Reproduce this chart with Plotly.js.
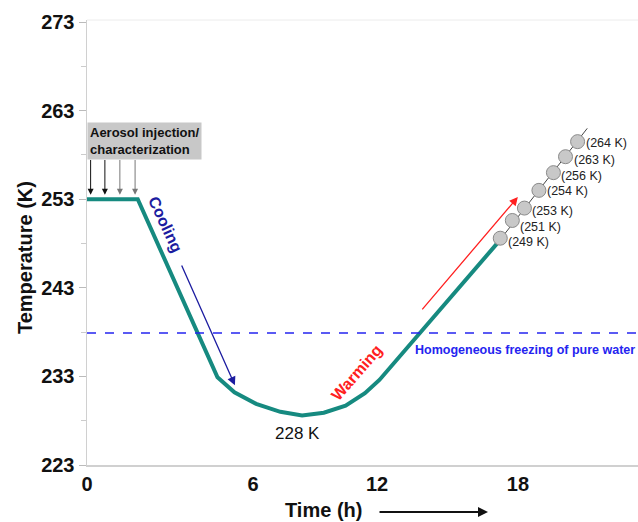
<!DOCTYPE html>
<html>
<head>
<meta charset="utf-8">
<script src="https://cdn.plot.ly/plotly-3.0.1.min.js"></script>
<style>html,body{margin:0;padding:0;background:#fff;}#chart{width:638px;height:522px;}</style>
</head>
<body>
<div id="chart"></div>
<script>
// ---- data ----
const TIME_H = [0, 2.1, 5.4, 6.1, 7.0, 8.0, 8.9, 9.8, 10.7, 11.5, 12.1, 17.0];
const TEMP_K = [253, 253, 232.9, 231.2, 229.9, 229.0, 228.6, 228.9, 229.7, 231.1, 232.6, 248.1];

const SAMPLE_TIME_H = [17.1, 17.6, 18.1, 18.7, 19.3, 19.8, 20.3];
const SAMPLE_TEMP_K = [248.6, 250.6, 252.0, 254.0, 256.0, 257.8, 259.5];
const SAMPLE_LABELS = ['(249 K)', '(251 K)', '(253 K)', '(254 K)', '(256 K)', '(263 K)', '(264 K)'];

const GUIDE_TIME_H = [17.0, 20.7];
const GUIDE_TEMP_K = [248.1, 261.0];

const INJECT_TIME_H = [0.15, 0.74, 1.36, 1.99];
const INJECT_TAIL_K = 257.6;
const INJECT_HEAD_K = 253.5;

const COOL_ARROW_H = [3.89, 6.12];
const COOL_ARROW_K = [245.7, 232.0];
const WARM_ARROW_H = [13.82, 17.83];
const WARM_ARROW_K = [240.4, 253.25];

const FREEZING_K = 237.9;
const MIN_LABEL = '228 K';

const Y_TICKS = [223, 233, 243, 253, 263, 273];
const Y_MINOR = [228, 238, 248, 258, 268];
const X_TICK_POS = [0, 6.87, 12, 17.83];
const X_TICK_TEXT = ['0', '6', '12', '18'];

// ---- styling ----
const FONT = 'Arial, "Liberation Sans", sans-serif';
const TEAL = '#168a80';
const NAVY = '#1c1ca0';
const BLUE = '#2424f0';
const RED = '#ff2020';
const LABEL_YSHIFT = [-4, -7, -3, -1, -3, -3, -1];

const traces = [
  {x: GUIDE_TIME_H, y: GUIDE_TEMP_K, mode: 'lines', line: {color: '#444', width: 1}, hoverinfo: 'skip'},
  {x: TIME_H, y: TEMP_K, mode: 'lines', line: {color: TEAL, width: 4}},
  {x: SAMPLE_TIME_H, y: SAMPLE_TEMP_K, mode: 'markers',
   marker: {size: 14, color: '#c8c8c8', line: {color: '#8a8a8a', width: 1}}}
];

const annotations = [];
SAMPLE_LABELS.forEach(function (lab, i) {
  annotations.push({x: SAMPLE_TIME_H[i], y: SAMPLE_TEMP_K[i], xref: 'x', yref: 'y', xanchor: 'left', yanchor: 'middle',
    xshift: 6, yshift: LABEL_YSHIFT[i], text: lab, showarrow: false, font: {family: FONT, size: 12.5, color: '#222'}});
});
INJECT_TIME_H.forEach(function (t, i) {
  annotations.push({x: t, y: INJECT_HEAD_K, ax: t, ay: INJECT_TAIL_K, xref: 'x', yref: 'y', axref: 'x', ayref: 'y',
    text: '', showarrow: true, arrowhead: 2, arrowsize: 1.2, arrowwidth: 1, arrowcolor: i < 2 ? '#111' : '#777'});
});
annotations.push({x: COOL_ARROW_H[1], y: COOL_ARROW_K[1], ax: COOL_ARROW_H[0], ay: COOL_ARROW_K[0],
  xref: 'x', yref: 'y', axref: 'x', ayref: 'y', text: '', showarrow: true, arrowhead: 2, arrowsize: 1.3, arrowwidth: 1.3, arrowcolor: NAVY});
annotations.push({x: WARM_ARROW_H[1], y: WARM_ARROW_K[1], ax: WARM_ARROW_H[0], ay: WARM_ARROW_K[0],
  xref: 'x', yref: 'y', axref: 'x', ayref: 'y', text: '', showarrow: true, arrowhead: 2, arrowsize: 1.3, arrowwidth: 1.3, arrowcolor: RED});
annotations.push({x: 0, y: 0.7708, xref: 'paper', yref: 'paper', xanchor: 'left', yanchor: 'top', align: 'left',
  text: '<b>Aerosol injection/<br>characterization</b>', showarrow: false, bgcolor: '#c8c8c8', borderpad: 2,
  font: {family: FONT, size: 13, color: '#111'}});
annotations.push({x: 3.23, y: 250.1, xref: 'x', yref: 'y', xanchor: 'center', yanchor: 'middle', text: '<b>Cooling</b>', showarrow: false, textangle: 65,
  font: {family: FONT, size: 16, color: NAVY}});
annotations.push({x: 11.17, y: 233.4, xref: 'x', yref: 'y', xanchor: 'center', yanchor: 'middle', text: '<b>Warming</b>', showarrow: false, textangle: -49,
  font: {family: FONT, size: 16, color: RED}});
annotations.push({x: 8.69, y: 226.5, xref: 'x', yref: 'y', xanchor: 'center', yanchor: 'middle', text: MIN_LABEL, showarrow: false,
  font: {family: FONT, size: 17, color: '#111'}});
annotations.push({x: 18.12, y: 236.0, xref: 'x', yref: 'y', xanchor: 'center', yanchor: 'middle', text: '<b>Homogeneous freezing of pure water</b>', showarrow: false,
  font: {family: FONT, size: 12.5, color: BLUE}});
annotations.push({x: -0.1125, y: 0.465, xref: 'paper', yref: 'paper', xanchor: 'center', yanchor: 'middle', text: '<b>Temperature (K)</b>', showarrow: false,
  textangle: -90, font: {family: FONT, size: 20, color: '#111'}});
annotations.push({x: 0.4299, y: -0.1011, xref: 'paper', yref: 'paper', xanchor: 'center', yanchor: 'middle', text: '<b>Time (h)</b>', showarrow: false,
  font: {family: FONT, size: 20, color: '#111'}});
annotations.push({x: 0.7278, y: -0.1056, ax: -110, ay: 0, xref: 'paper', yref: 'paper', text: '', showarrow: true,
  arrowhead: 2, arrowsize: 1, arrowwidth: 2, arrowcolor: '#111'});

const layout = {
  width: 638, height: 522,
  margin: {l: 87, r: 0, t: 20, b: 57},
  paper_bgcolor: '#fff', plot_bgcolor: '#fff',
  showlegend: false,
  font: {family: FONT},
  xaxis: {range: [0, 22.8], showline: true, linecolor: '#d0d0d0', linewidth: 1.5, showgrid: false, zeroline: false,
    ticks: '', tickmode: 'array', tickvals: X_TICK_POS, ticktext: X_TICK_TEXT,
    tickfont: {family: FONT, size: 20, color: '#111', weight: 'bold'}},
  yaxis: {range: [223, 273.23], showline: true, linecolor: '#d0d0d0', linewidth: 1.5, showgrid: false, zeroline: false,
    ticks: 'outside', ticklen: 7, tickcolor: '#bbb', tickwidth: 1, tickmode: 'array', tickvals: Y_TICKS,
    minor: {ticks: 'outside', ticklen: 5, tickcolor: '#ccc', tickmode: 'array', tickvals: Y_MINOR},
    tickfont: {family: FONT, size: 20, color: '#111', weight: 'bold'}},
  shapes: [
    {type: 'line', xref: 'paper', yref: 'y', x0: 0, x1: 1, y0: FREEZING_K, y1: FREEZING_K,
     line: {color: BLUE, width: 1.5, dash: 'dash'}},
    {type: 'line', xref: 'paper', yref: 'paper', x0: 0, x1: 1, y0: 1, y1: 1, line: {color: '#ececec', width: 1}}
  ],
  annotations: annotations
};

Plotly.newPlot('chart', traces, layout, {displayModeBar: false, staticPlot: true});
</script>
</body>
</html>
